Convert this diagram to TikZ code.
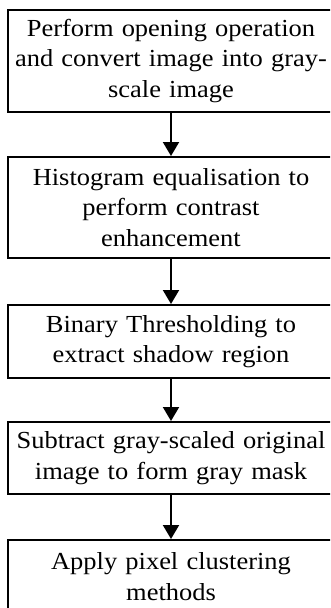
\documentclass[tikz,border=0pt]{standalone}
\usepackage{fontspec}
\setmainfont{Liberation Serif}[FakeStretch=1.08]
\usetikzlibrary{arrows.meta}
\begin{document}
\begin{tikzpicture}[x=1pt,y=1pt,
  box/.style={draw, line width=2pt, minimum width=326pt, text width=322pt,
    align=center, inner sep=0pt, anchor=north,
    font=\fontsize{24.5}{30.5}\selectfont},
  link/.style={-{Triangle[width=16pt,length=14pt]}, line width=2pt}]
\clip (0,0) rectangle (330,-608);
\node[box, minimum height=102pt] (b1) at (171,-9)
  {Perform opening operation\\and convert image into gray-\\scale image};
\node[box, minimum height=101pt] (b2) at (171,-156)
  {Histogram equalisation to\\perform contrast\\enhancement};
\node[box, minimum height=73pt] (b3) at (171,-304)
  {Binary Thresholding to\\extract shadow region};
\node[box, minimum height=72pt] (b4) at (171,-421)
  {Subtract gray-scaled original\\image to form gray mask};
\node[box, minimum height=73pt] (b5) at (171,-539)
  {Apply pixel clustering\\methods};
\draw[link] (b1) -- (b2);
\draw[link] (b2) -- (b3);
\draw[link] (b3) -- (b4);
\draw[link] (b4) -- (b5);
\end{tikzpicture}
\end{document}
